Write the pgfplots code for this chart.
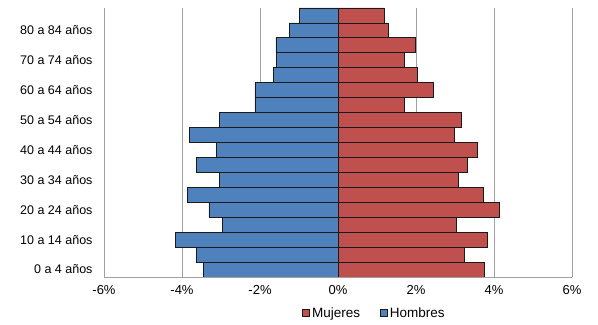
\documentclass[border=0pt]{standalone}
\usepackage{pgfplots}
\pgfplotsset{compat=1.18}
\usepackage{pgfplotstable}
\usepackage{fontspec}
\setmainfont{Liberation Sans}

\definecolor{azul}{HTML}{4F81BD}
\definecolor{rojo}{HTML}{C0504D}
\definecolor{borde}{HTML}{1A1A1A}
\definecolor{rejilla}{HTML}{A0A0A0}

% Population share by five-year age group (percent)
\pgfplotstableread{
idx hombres mujeres
0  -3.44 3.76
1  -3.63 3.24
2  -4.16 3.83
3  -2.97 3.03
4  -3.31 4.15
5  -3.85 3.72
6  -3.05 3.09
7  -3.64 3.31
8  -3.12 3.57
9  -3.80 2.98
10 -3.05 3.16
11 -2.13 1.70
12 -2.13 2.44
13 -1.66 2.03
14 -1.57 1.70
15 -1.59 1.99
16 -1.25 1.30
17 -1.00 1.19
}\datos

\begin{document}
\begin{tikzpicture}
\path[use as bounding box] (0,0) rectangle (598bp,325bp);
\begin{axis}[
  at={(104bp,48bp)}, anchor=south west,
  scale only axis, width=468bp, height=269bp,
  xbar, bar shift=0pt, bar width=1,
  xmin=-6, xmax=6, ymin=-0.5, ymax=17.5,
  xtick={-6,-4,...,6},
  xticklabels={-6\%,-4\%,-2\%,0\%,2\%,4\%,6\%},
  ytick={0,2,...,16},
  yticklabels={0 a 4 años,10 a 14 años,20 a 24 años,30 a 34 años,40 a 44 años,50 a 54 años,60 a 64 años,70 a 74 años,80 a 84 años},
  axis x line*=bottom, axis y line*=left,
  axis line style={draw=rejilla, line width=0.9bp, -},
  major tick length=0pt,
  xmajorgrids, grid style={draw=rejilla, line width=0.9bp},
  xticklabel style={font=\fontsize{13bp}{15bp}\selectfont, yshift=-5bp},
  yticklabel style={font=\fontsize{12.5bp}{14bp}\selectfont, xshift=-8bp},
  legend style={at={(0.578,-0.135)}, anchor=center, draw=none, fill=none,
    legend columns=2, font=\fontsize{13.5bp}{15bp}\selectfont,
    /tikz/every even column/.append style={column sep=18bp}},
  legend image code/.code={\draw[#1, line width=0.7bp] (0bp,-3.5bp) rectangle (7bp,3.5bp);},
]
\addplot[fill=rojo, draw=borde, line width=0.8bp] table[x=mujeres, y=idx] {\datos};
\addlegendentry{Mujeres}
\addplot[fill=azul, draw=borde, line width=0.8bp] table[x=hombres, y=idx] {\datos};
\addlegendentry{Hombres}
\end{axis}
\end{tikzpicture}
\end{document}
